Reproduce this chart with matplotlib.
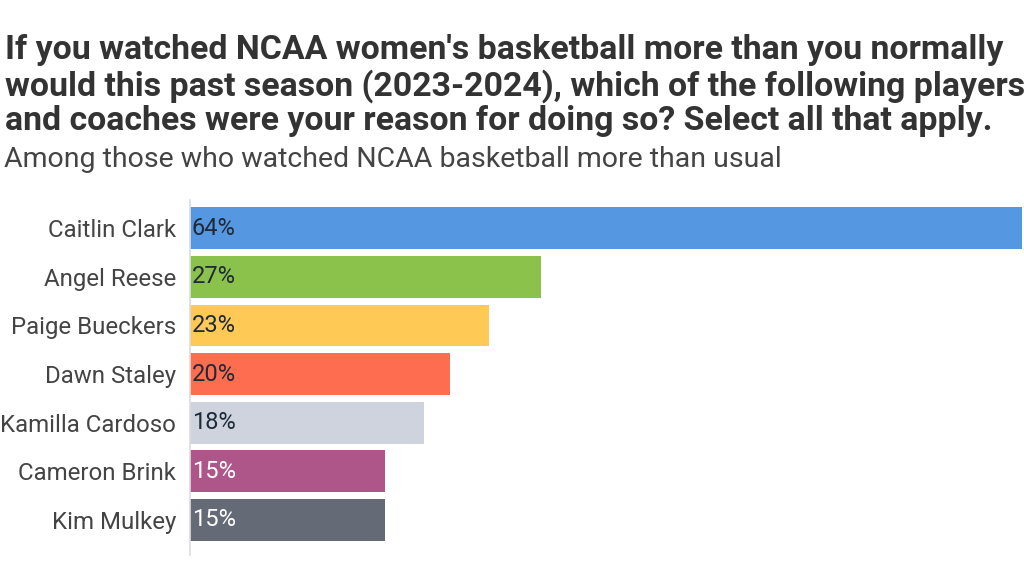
import matplotlib
matplotlib.use('Agg')
import matplotlib.pyplot as plt

plt.rcParams['font.family'] = ['Roboto', 'DejaVu Sans']

names = ['Caitlin Clark', 'Angel Reese', 'Paige Bueckers', 'Dawn Staley',
         'Kamilla Cardoso', 'Cameron Brink', 'Kim Mulkey']
shares = [64, 27, 23, 20, 18, 15, 15]
colors = ['#5598E1', '#8BC24C', '#FECA55', '#FE6D4F', '#CED3DD', '#AE5589', '#656A77']
label_colors = ['#1e2a38', '#1e2a38', '#1e2a38', '#1e2a38', '#1e2a38', 'white', 'white']

title = ("If you watched NCAA women's basketball more than you normally\n"
         "would this past season (2023-2024), which of the following players\n"
         "and coaches were your reason for doing so? Select all that apply.")
subtitle = 'Among those who watched NCAA basketball more than usual'

fig = plt.figure(figsize=(10.24, 5.76), dpi=100)
ax = fig.add_axes([190 / 1024, 1 - 555 / 576, 834 / 1024, 355 / 576])

pos = list(range(len(names)))
ax.barh(pos, shares, height=0.86, color=colors)
for p, v, c in zip(pos, shares, label_colors):
    ax.text(0.15, p, f'{v}%', va='center', ha='left', fontsize=17, color=c)

ax.set_xlim(0, 64.15)
ax.set_ylim(6.72, -0.58)
ax.set_yticks(pos)
ax.set_yticklabels(names, fontsize=17.3, color='#444444')
ax.tick_params(axis='y', length=0, pad=10)
ax.set_xticks([])
for s in ['top', 'right', 'bottom']:
    ax.spines[s].set_visible(False)
ax.spines['left'].set_color('#dddddd')
ax.spines['left'].set_linewidth(1.2)

fig.text(0.005, 1 - 34 / 576, title, ha='left', va='top', fontsize=24.4,
         fontweight='bold', color='#333333', linespacing=1.11)
fig.text(0.004, 1 - 146 / 576, subtitle, ha='left', va='top', fontsize=20.5,
         color='#444444')

fig.savefig('out.png', dpi=100)
